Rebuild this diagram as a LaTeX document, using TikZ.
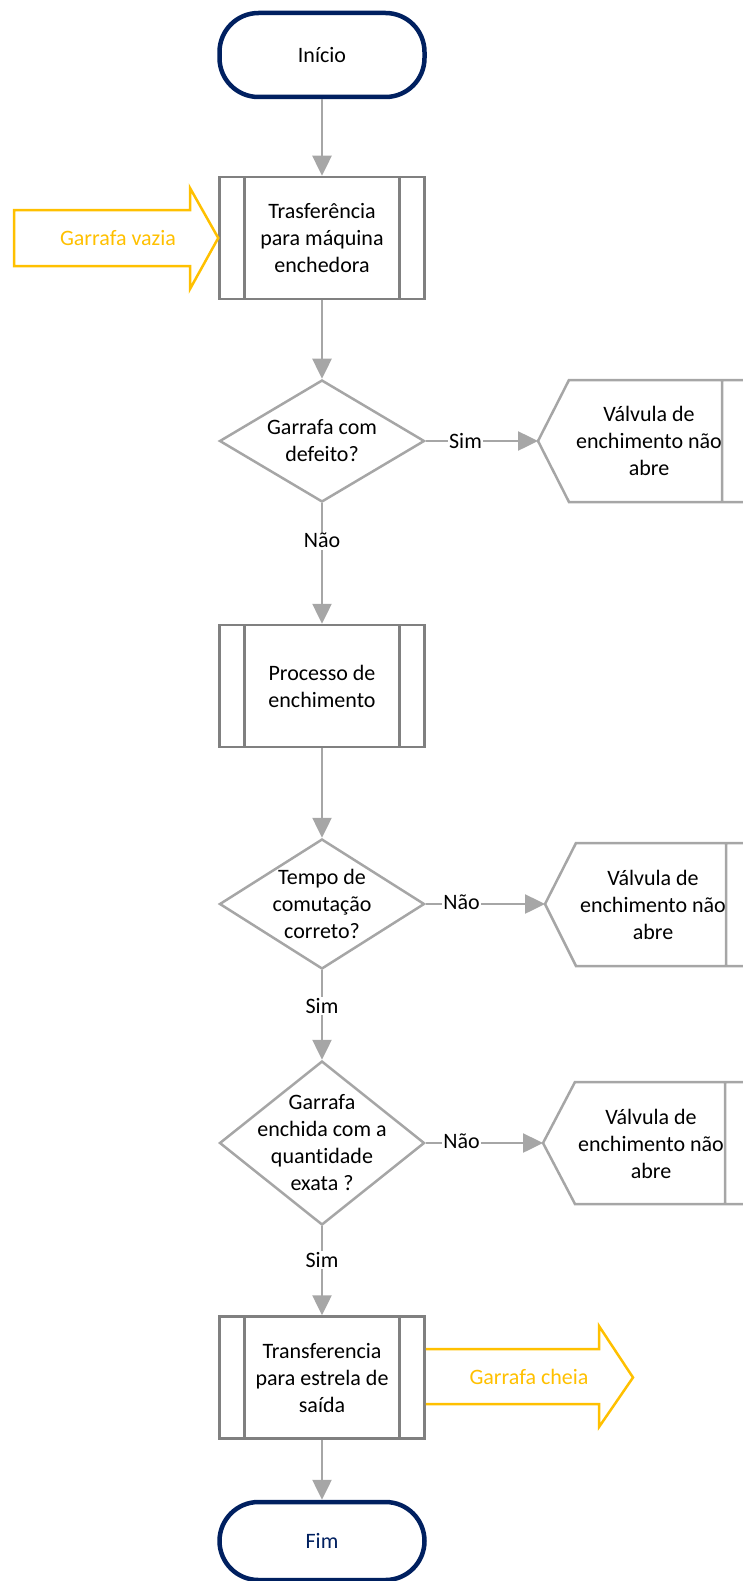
\documentclass[tikz,border=0pt]{standalone}
\usepackage{fontspec}
\setmainfont{Carlito}[Ligatures={NoCommon}]
\usetikzlibrary{shapes.geometric,arrows.meta}
\definecolor{navy}{RGB}{0,32,96}
\definecolor{boxgray}{RGB}{128,128,128}
\definecolor{lngray}{RGB}{166,166,166}
\definecolor{gold}{RGB}{255,192,0}
\newcommand{\fsz}{\fontsize{22}{27}\selectfont}
\tikzset{
  terminal/.style={draw=navy, line width=4.5pt, rounded corners=39pt, fill=white,
    minimum width=205pt, minimum height=84pt, inner sep=0pt, font=\fsz},
  subproc/.style={draw=boxgray, line width=2.5pt, fill=white, minimum width=205pt,
    minimum height=122pt, inner sep=0pt, align=center, font=\fsz,
    path picture={\draw[boxgray, line width=2.5pt]
      ([xshift=25pt]path picture bounding box.north west) -- ([xshift=25pt]path picture bounding box.south west)
      ([xshift=-25pt]path picture bounding box.north east) -- ([xshift=-25pt]path picture bounding box.south east);}},
  decision/.style={draw=lngray, line width=2.5pt, shape=diamond, minimum width=205pt, inner sep=0pt},
  txt/.style={align=center, font=\fsz, inner sep=0pt},
  conn/.style={draw=lngray, line width=2.5pt, -{Triangle[length=20pt,width=19pt]}},
  lbl/.style={fill=white, font=\fsz, inner sep=1.5pt},
  dispshape/.style={draw=lngray, line width=2.5pt},
  flowarrow/.style={draw=gold, line width=2.5pt, line join=miter},
}
\begin{document}
\begin{tikzpicture}[x=1pt, y=-1pt]
\useasboundingbox (0,0) rectangle (743,1581);
\clip (0,0) rectangle (743,1581);

% main column
\node[terminal] (ini) at (322,55) {Início};
\node[subproc] (b1) at (322,238) {Trasferência\\para máquina\\enchedora};
\node[decision, minimum height=122pt] (q1) at (322,441) {};
\node[txt] (q1t) at (322,441) {Garrafa com\\defeito?};
\node[subproc] (b2) at (322,686) {Processo de\\enchimento};
\node[decision, minimum height=130pt] (q2) at (322,904) {};
\node[txt] (q2t) at (322,904) {Tempo de\\comutação\\correto?};
\node[decision, minimum height=164pt] (q3) at (322,1143) {};
\node[txt] (q3t) at (322,1143) {Garrafa\\enchida com a\\quantidade\\exata ?};
\node[subproc] (b3) at (322,1377.5) {Transferencia\\para estrela de\\saída};
\node[terminal, text=navy, minimum height=78pt] (fim) at (322,1541) {Fim};

% display shapes on the right
\coordinate (d1) at (538,441);
\draw[dispshape] (760,380) -- (569,380) -- (d1) -- (569,502) -- (760,502) (722,380) -- (722,502);
\node[txt] (d1t) at (649,441) {Válvula de\\enchimento não\\abre};

\coordinate (d2) at (545,904);
\draw[dispshape] (760,843) -- (576,843) -- (d2) -- (576,966) -- (760,966) (726,843) -- (726,966);
\node[txt] (d2t) at (653,905) {Válvula de\\enchimento não\\abre};

\coordinate (d3) at (543,1143);
\draw[dispshape] (760,1082) -- (575,1082) -- (d3) -- (575,1204) -- (760,1204) (725,1082) -- (725,1204);
\node[txt] (d3t) at (651,1144) {Válvula de\\enchimento não\\abre};

% material flow arrows
\draw[flowarrow] (14,210) -- (190,210) -- (190,188) -- (b1.west) -- (190,289) -- (190,266) -- (14,266) -- cycle;
\node[txt, text=gold] (vazia) at (118,238) {Garrafa vazia};
\draw[flowarrow] (b3.east |- 0,1349) -- (599,1349) -- (599,1326) -- (633,1377.5) -- (599,1427) -- (599,1404) -- (b3.east |- 0,1404);
\node[txt, text=gold] (cheia) at (529,1377) {Garrafa cheia};

% connectors
\draw[conn] (ini) -- (b1);
\draw[conn] (b1) -- (q1);
\draw[conn] (q1.east) -- node[lbl, pos=0.354] (l1) {Sim} (d1);
\draw[conn] (q1) -- node[lbl, pos=0.31] (l2) {Não} (b2);
\draw[conn] (b2) -- (q2);
\draw[conn] (q2.east) -- node[lbl, pos=0.3, yshift=2pt] (l3) {Não} (d2);
\draw[conn] (q2) -- node[lbl, pos=0.4] (l4) {Sim} (q3);
\draw[conn] (q3.east) -- node[lbl, pos=0.305, yshift=2pt] (l5) {Não} (d3);
\draw[conn] (q3) -- node[lbl, pos=0.38] (l6) {Sim} (b3);
\draw[conn] (b3) -- (fim);
\end{tikzpicture}
\end{document}
